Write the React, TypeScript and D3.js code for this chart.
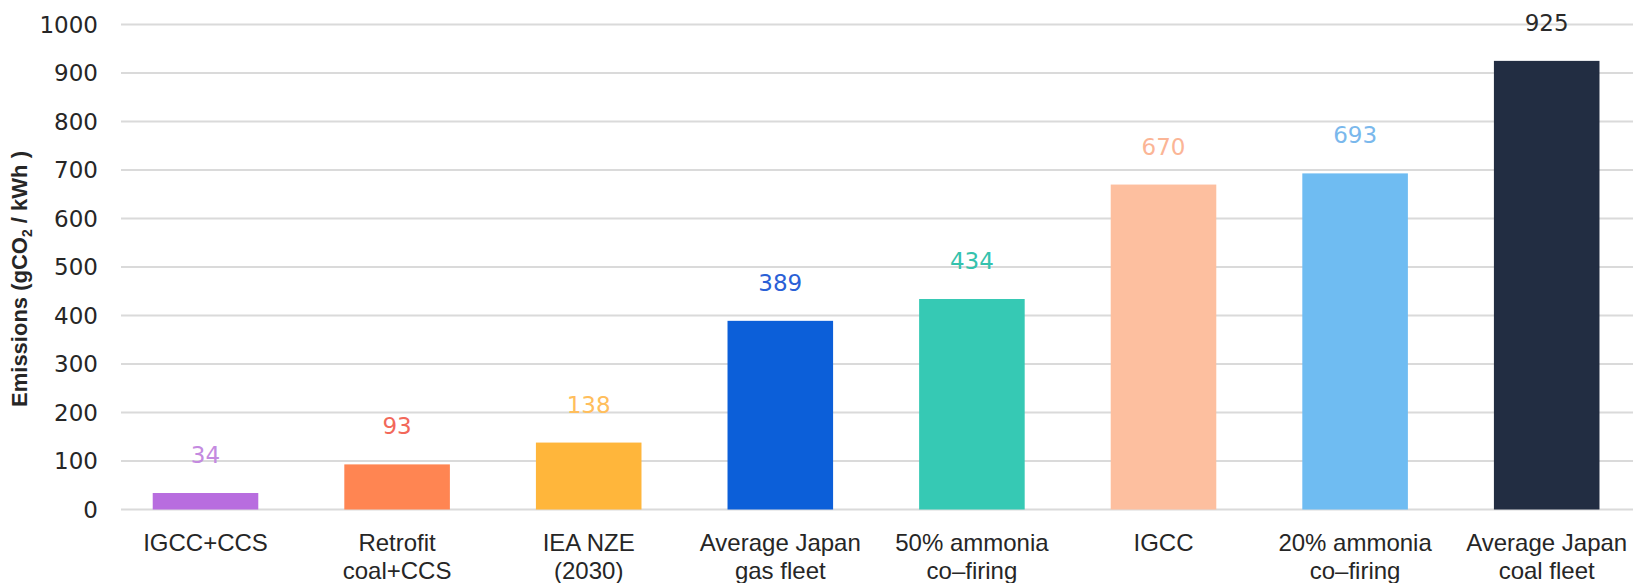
import React from "react";
import * as d3 from "d3";

// Emissions intensity by generation technology (gCO2/kWh)
const categories: string[][] = [
  ["IGCC+CCS"],
  ["Retrofit", "coal+CCS"],
  ["IEA NZE", "(2030)"],
  ["Average Japan", "gas fleet"],
  ["50% ammonia", "co\u2013firing"],
  ["IGCC"],
  ["20% ammonia", "co\u2013firing"],
  ["Average Japan", "coal fleet"],
];
const values: number[] = [34, 93, 138, 389, 434, 670, 693, 925];
const barColors: string[] = [
  "#b86ddf", "#ff8552", "#ffb63b", "#0c5fd9",
  "#36c9b4", "#fdbf9f", "#6fbcf2", "#222d42",
];
const labelColors: string[] = [
  "#c48ae0", "#f2685a", "#ffbe5c", "#2a60d6",
  "#35c2ad", "#fbb596", "#7ab8ec", "#2a2a2a",
];
const yTicks: number[] = [0, 100, 200, 300, 400, 500, 600, 700, 800, 900, 1000];

const W = 1633;
const H = 583;
const numFont = "'DejaVu Sans', sans-serif";
const textFont = "'Liberation Sans', Arial, sans-serif";

export default function App() {
  const keys = categories.map((c) => c.join(" "));
  const step = 191.6;
  const x0 = 205.5 - step / 2;
  const x = d3
    .scaleBand<string>()
    .domain(keys)
    .range([x0, x0 + step * keys.length])
    .paddingInner(0.449)
    .paddingOuter(0.2245);
  const y = d3.scaleLinear().domain([0, 1000]).range([509.5, 24.5]);

  return (
    <svg
      width={W}
      height={H}
      style={{ position: "absolute", left: 0, top: 0, background: "#fff" }}
    >
      {/* gridlines + tick labels */}
      {yTicks.map((t) => (
        <g key={t}>
          <line
            x1={121}
            x2={W}
            y1={y(t)}
            y2={y(t)}
            stroke="#dadada"
            strokeWidth={2}
          />
          <text
            x={98}
            y={y(t)}
            dy="0.36em"
            textAnchor="end"
            fontFamily={numFont}
            fontSize={23}
            fill="#262626"
          >
            {t}
          </text>
        </g>
      ))}

      {/* y-axis title */}
      <text
        transform={`translate(27, 279) rotate(-90)`}
        textAnchor="middle"
        fontFamily={textFont}
        fontWeight="bold"
        fontSize={22}
        fill="#262626"
      >
        Emissions (gCO
        <tspan fontSize={14} dy={5}>2</tspan>
        <tspan dy={-5}> / kWh )</tspan>
      </text>

      {/* bars */}
      {keys.map((k, i) => (
        <rect
          key={k}
          x={x(k)}
          y={y(values[i])}
          width={x.bandwidth()}
          height={y(0) - y(values[i])}
          fill={barColors[i]}
        />
      ))}

      {/* value labels */}
      {keys.map((k, i) => (
        <text
          key={k}
          x={(x(k) as number) + x.bandwidth() / 2}
          y={y(values[i]) - 30}
          textAnchor="middle"
          fontFamily={numFont}
          fontSize={23}
          fill={labelColors[i]}
        >
          {values[i]}
        </text>
      ))}

      {/* category labels */}
      {categories.map((lines, i) => (
        <text
          key={keys[i]}
          x={(x(keys[i]) as number) + x.bandwidth() / 2}
          y={551}
          textAnchor="middle"
          fontFamily={textFont}
          fontSize={24}
          fill="#262626"
        >
          {lines.map((l, j) => (
            <tspan
              key={j}
              x={(x(keys[i]) as number) + x.bandwidth() / 2}
              dy={j === 0 ? 0 : 28}
            >
              {l}
            </tspan>
          ))}
        </text>
      ))}
    </svg>
  );
}
